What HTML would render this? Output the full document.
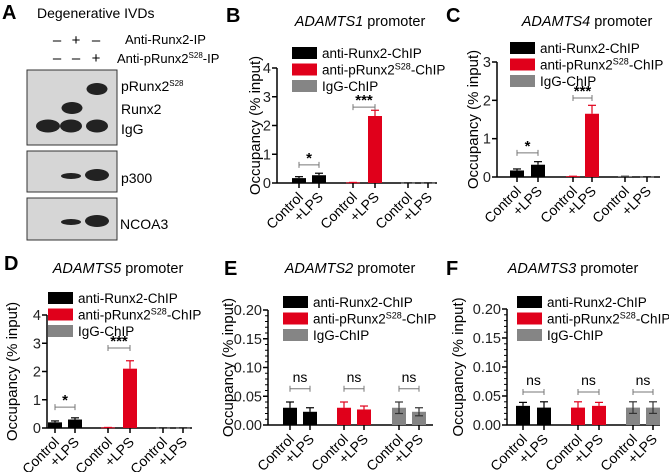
<!DOCTYPE html>
<html><head><meta charset="utf-8"><style>
body{margin:0;background:#fff;}
svg{display:block;font-family:"Liberation Sans",sans-serif;}
</style></head><body>
<svg id="fig" width="669" height="472" viewBox="0 0 669 472">
<g>
<text x="2" y="19" font-size="20" font-weight="bold">A</text>
<text x="37" y="18" font-size="14">Degenerative IVDs</text>
<g font-size="15" text-anchor="middle">
<text x="57" y="45">–</text><text x="76" y="45">+</text><text x="96" y="45">–</text>
<text x="57" y="63">–</text><text x="76" y="63">–</text><text x="96" y="63">+</text>
</g>
<text x="125" y="44" font-size="13">Anti-Runx2-IP</text>
<text x="117" y="63" font-size="13">Anti-pRunx2<tspan font-size="8" dy="-5">S28</tspan><tspan dy="5">-IP</tspan></text>
<rect x="27" y="70" width="90" height="75" fill="#d6d6d6" stroke="#333"/>
<rect x="27" y="151" width="90" height="41" fill="#d6d6d6" stroke="#333"/>
<rect x="27" y="198" width="90" height="42" fill="#d6d6d6" stroke="#333"/>
<g fill="#222">
<ellipse cx="48" cy="126" rx="12" ry="6.5"/><ellipse cx="71" cy="126" rx="11" ry="6.5"/><ellipse cx="97" cy="126" rx="11" ry="6.5"/>
<ellipse cx="72" cy="108" rx="10.5" ry="6"/><ellipse cx="97" cy="89" rx="10.5" ry="6"/>
<ellipse cx="71" cy="176" rx="10" ry="3"/><ellipse cx="97" cy="175" rx="12" ry="6"/>
<ellipse cx="71" cy="222" rx="10" ry="3"/><ellipse cx="97" cy="221" rx="12" ry="6"/>
</g>
<g font-size="14">
<text x="121" y="91">pRunx2<tspan font-size="8" dy="-5">S28</tspan></text>
<text x="121" y="114">Runx2</text><text x="121" y="134">IgG</text>
<text x="121" y="183">p300</text><text x="120" y="229">NCOA3</text>
</g>
</g>
<g id="charts"></g>
</svg>
<script>
// Panel data: [control, +LPS] per series: Runx2, pRunx2, IgG
const panelIds = ["B","C","D","E","F"];
const panelTitles = ["ADAMTS1","ADAMTS4","ADAMTS5","ADAMTS2","ADAMTS3"];
const runx2Values = [[0.17,0.27],[0.17,0.32],[0.20,0.30],[0.030,0.023],[0.033,0.030]];
const runx2Errors = [[0.05,0.07],[0.04,0.08],[0.05,0.06],[0.010,0.007],[0.006,0.010]];
const pRunx2Values = [[0.02,2.33],[0.02,1.65],[0.02,2.10],[0.030,0.027],[0.030,0.033]];
const pRunx2Errors = [[0,0.20],[0,0.22],[0,0.28],[0.010,0.006],[0.010,0.006]];
const iggValues = [[0.01,0.01],[0.02,0.01],[0.01,0.01],[0.030,0.023],[0.030,0.030]];
const iggErrors = [[0,0],[0,0],[0,0],[0.010,0.007],[0.010,0.010]];
const yMaxes = [4,3,4,0.2,0.2];
const yTickLabels = [["0","1","2","3","4"],["0","1","2","3"],["0","1","2","3","4"],["0.00","0.05","0.10","0.15","0.20"],["0.00","0.05","0.10","0.15","0.20"]];
const sigLabels = [["*","***",""],["*","***",""],["*","***",""],["ns","ns","ns"],["ns","ns","ns"]];
const sigLevels = [[0.63,2.64,0],[0.63,2.06,0],[0.74,2.83,0],[0.063,0.063,0.063],[0.057,0.057,0.057]];
const legendLabels = ["anti-Runx2-ChIP","anti-pRunx2","IgG-ChIP"];

const layout = [
 {ax:277,yTop:68,y0:183,xEnd:437,bars:[299,319,353,375,408,428],title:[360,26],lab:[226,22],leg:[292,53],yl:255,minor:false},
 {ax:497,yTop:62,y0:177,xEnd:660,bars:[517,538,573,592,625,647],title:[587,26],lab:[446,22],leg:[510,48],yl:473,minor:false},
 {ax:47,yTop:315,y0:428,xEnd:192,bars:[55,75,108,130,163,183],title:[118,273],lab:[4,270],leg:[48,298],yl:12,minor:false},
 {ax:268,yTop:310,y0:425,xEnd:433,bars:[290,310,344,364,399,419],title:[350,273],lab:[224,275],leg:[283,302],yl:228,minor:true},
 {ax:507,yTop:309,y0:425,xEnd:660,bars:[523,544,578,599,633,653],title:[573,273],lab:[446,275],leg:[517,302],yl:458,minor:true}
];
const colors = ["#000","#e0001b","#858585"];
const NS = "http://www.w3.org/2000/svg";
const root = document.getElementById("charts");
function mk(tag, attrs, parent, text){
  const e = document.createElementNS(NS, tag);
  for (const k in attrs) e.setAttribute(k, attrs[k]);
  if (text !== undefined) e.textContent = text;
  parent.appendChild(e); return e;
}
panelIds.forEach((pid, p) => {
  const L = layout[p];
  const g = mk("g", {}, root);
  
  
  const yScale = v => L.y0 - v / yMaxes[p] * (L.y0 - L.yTop);
  const lab = mk("text", {x:L.lab[0], y:L.lab[1], "font-size":20, "font-weight":"bold"}, g, pid);
  
  
  const t = mk("text", {x:L.title[0], y:L.title[1], "font-size":14.5, "text-anchor":"middle"}, g);
  
  
  mk("tspan", {"font-style":"italic"}, t, panelTitles[p]);
  mk("tspan", {}, t, " promoter");
  const ya = mk("line", {x1:L.ax, y1:L.yTop, x2:L.ax, y2:L.y0, stroke:"#000", "stroke-width":1.5}, g);
  
  
  const xa = mk("line", {x1:L.ax, y1:L.y0, x2:L.xEnd, y2:L.y0, stroke:"#000", "stroke-width":1.5}, g);
  
  
  const ticks = yTickLabels[p];
  ticks.forEach((tl, i) => {
    const v = yMaxes[p] * i / (ticks.length - 1);
    const y = yScale(v);
    mk("line", {x1:L.ax-5, y1:y, x2:L.ax, y2:y, stroke:"#000", "stroke-width":1.5}, g);
    const tt = mk("text", {x:L.ax-6, y:y+5, "font-size":14.5, "text-anchor":"end", fill:"#222"}, g, tl);
    
    
  });
  if (L.minor) {
    for (let v = 0.01; v < yMaxes[p]; v += 0.01) {
      const y = yScale(v);
      mk("line", {x1:L.ax-3, y1:y, x2:L.ax, y2:y, stroke:"#000", "stroke-width":1}, g);
    }
  }
  const yt = mk("text", {x:L.yl, y:(L.yTop+L.y0)/2, "font-size":15, "text-anchor":"middle",
    transform:`rotate(-90 ${L.yl} ${(L.yTop+L.y0)/2})`, dy:5}, g, "Occupancy (% input)");
  
  
  const series = [[runx2Values,runx2Errors],[pRunx2Values,pRunx2Errors],[iggValues,iggErrors]];
  const bw = 14;
  series.forEach((s, si) => {
    for (let j = 0; j < 2; j++) {
      const cx = L.bars[si*2+j];
      const v = s[0][p][j], e = s[1][p][j];
      const yv = yScale(v);
      const b = mk("rect", {x:cx-bw/2, y:yv, width:bw, height:Math.max(L.y0-yv,0.8), fill:colors[si]}, g);
      
      
      const ec = si===0 ? "#000" : (si===1 ? "#e0001b" : "#333");
      const ys = [yScale(v+e)];
      if (L.minor) ys.push(yScale(Math.max(v-e,0)));
      ys.forEach(ye => {
        mk("line", {x1:cx, y1:yv, x2:cx, y2:ye, stroke:ec, "stroke-width":1.2}, g);
        mk("line", {x1:cx-4, y1:ye, x2:cx+4, y2:ye, stroke:ec, "stroke-width":1.2}, g);
      });
      mk("line", {x1:cx, y1:L.y0, x2:cx, y2:L.y0+5, stroke:"#000", "stroke-width":1.5}, g);
      const xl = mk("text", {x:cx+5, y:L.y0+15, "font-size":14, "text-anchor":"end",
        transform:`rotate(-45 ${cx+5} ${L.y0+15})`}, g, j ? "+LPS" : "Control");
      
      
    }
    const sl = sigLabels[p][si];
    if (sl) {
      const y = yScale(sigLevels[p][si]);
      const x1 = L.bars[si*2], x2 = L.bars[si*2+1];
      mk("path", {d:`M${x1} ${y-3}V${y+3}M${x1} ${y}H${x2}M${x2} ${y-3}V${y+3}`, stroke:"#777", "stroke-width":1, fill:"none"}, g);
      const st = mk("text", {x:(x1+x2)/2, y: y - (sl==="ns" ? 7 : 2), "font-size": sl==="ns"?14:15, "text-anchor":"middle", "font-weight": sl==="ns"?"normal":"bold"}, g, sl);
      
      
    }
  });
  legendLabels.forEach((ll, i) => {
    const cy = L.leg[1] + i*16.5;
    const lg = mk("g", {}, g);
    
    
    mk("rect", {x:L.leg[0], y:cy-6, width:25, height:12, fill:colors[i]}, lg);
    const tx = mk("text", {x:L.leg[0]+30, y:cy+5, "font-size":13.5}, lg, ll);
    if (i === 1) {
      mk("tspan", {"font-size":9, dy:-5}, tx, "S28");
      mk("tspan", {dy:5}, tx, "-ChIP");
    }
  });
});
</script>
</body></html>
